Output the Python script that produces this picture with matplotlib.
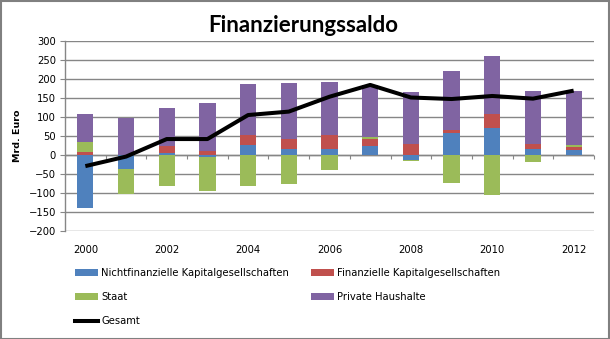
import numpy as np
import matplotlib
matplotlib.use("Agg")
import matplotlib.pyplot as plt
from matplotlib.patches import Patch, Rectangle
from matplotlib.lines import Line2D

years = [2000, 2001, 2002, 2003, 2004, 2005, 2006, 2007, 2008, 2009, 2010, 2011, 2012]
nichtfin = [-138, -36, 5, -4, 26, 17, 15, 25, -12, 58, 72, 16, 14]
finanz = [9, 0, 19, 11, 26, 26, 38, 18, 30, 9, 37, 14, 8]
staat = [24, -65, -82, -89, -82, -75, -38, 4, -3, -73, -104, -19, 5]
private = [76, 98, 100, 126, 135, 145, 138, 138, 136, 153, 150, 137, 142]
gesamt = [-29, -4, 42, 42, 105, 114, 153, 184, 151, 147, 155, 148, 169]
xtick_labels = ["2000", "2002", "2004", "2006", "2008", "2010", "2012"]

series = [
    ("Nichtfinanzielle Kapitalgesellschaften", nichtfin, "#4F81BD"),
    ("Finanzielle Kapitalgesellschaften", finanz, "#C0504D"),
    ("Staat", staat, "#9BBB59"),
    ("Private Haushalte", private, "#8064A2"),
]

W, H = 610, 339
fig = plt.figure(figsize=(W / 100, H / 100), dpi=100)
left, right, top, bottom = 65, 594, 40.7, 231.3
ax = fig.add_axes([left / W, 1 - bottom / H, (right - left) / W, (bottom - top) / H])

x = np.arange(len(years))
pos_base = np.zeros(len(years))
neg_base = np.zeros(len(years))
handles = {}
for name, vals, col in series:
    v = np.array(vals, dtype=float)
    base = np.where(v >= 0, pos_base, neg_base)
    ax.bar(x, v, bottom=base, width=0.4, color=col, zorder=3, linewidth=0)
    pos_base = pos_base + np.where(v >= 0, v, 0)
    neg_base = neg_base + np.where(v < 0, v, 0)
    handles[name] = Patch(facecolor=col, edgecolor="none")

ax.plot(x, gesamt, color="black", lw=2.9, zorder=5, solid_capstyle="butt")

grid_c = "#868686"
ax.set_xlim(-0.5, len(years) - 0.5)
ax.set_ylim(-200, 300)
ax.set_yticks(np.arange(-200, 301, 50))
ax.yaxis.grid(True, color=grid_c, lw=1, zorder=0)
ax.set_axisbelow(True)
for s in ["top", "right", "bottom"]:
    ax.spines[s].set_visible(False)
ax.spines["left"].set_color(grid_c)
ax.spines["left"].set_linewidth(1)
ax.tick_params(axis="y", direction="out", length=3.5, width=0.8, color=grid_c,
               labelsize=7.2, pad=3, labelcolor="black")
ax.set_xticks(x[::2])
ax.set_xticklabels(xtick_labels)
ax.tick_params(axis="x", length=0, labelsize=7.2, pad=10)

# category axis at y = 0
ax.axhline(0, color=grid_c, lw=1, zorder=2)
sec = ax.secondary_xaxis(200 / 500)
sec.set_xticks(np.arange(-0.5, len(years), 1.0))
sec.tick_params(axis="x", direction="out", length=3, width=0.8, color=grid_c, labelbottom=False, labeltop=False)
sec.spines["bottom"].set_visible(False)
sec.spines["top"].set_visible(False)
sec.xaxis.set_ticks_position("bottom")
sec.set_xticklabels([])

ax.set_ylabel("Mrd. Euro", fontsize=6.8, fontweight="bold", labelpad=6)
ax.yaxis.set_label_coords(-0.081, 0.5)

fig.text(303 / W, 1 - 25 / H, "Finanzierungssaldo", ha="center", va="center",
         fontsize=16, fontweight="bold", family="Lato")

line_h = Line2D([], [], color="black", lw=2.9)
order = [
    (handles["Nichtfinanzielle Kapitalgesellschaften"], "Nichtfinanzielle Kapitalgesellschaften"),
    (handles["Staat"], "Staat"),
    (line_h, "Gesamt"),
    (handles["Finanzielle Kapitalgesellschaften"], "Finanzielle Kapitalgesellschaften"),
    (handles["Private Haushalte"], "Private Haushalte"),
]
leg = fig.legend([h for h, _ in order], [l for _, l in order], ncol=2,
                 loc="upper left", bbox_to_anchor=(75 / W, 1 - 268 / H),
                 frameon=False, fontsize=7.2, handlelength=2.3, handleheight=0.7,
                 handletextpad=0.3, columnspacing=2.2, labelspacing=1.4, borderpad=0,
                 borderaxespad=0)

fig.patches.append(Rectangle((0.5 / W, 0.5 / H), 1 - 1.5 / W, 1 - 1.5 / H,
                             transform=fig.transFigure, fill=False,
                             edgecolor="#808080", lw=1.5))

fig.savefig("out.png", dpi=100)
